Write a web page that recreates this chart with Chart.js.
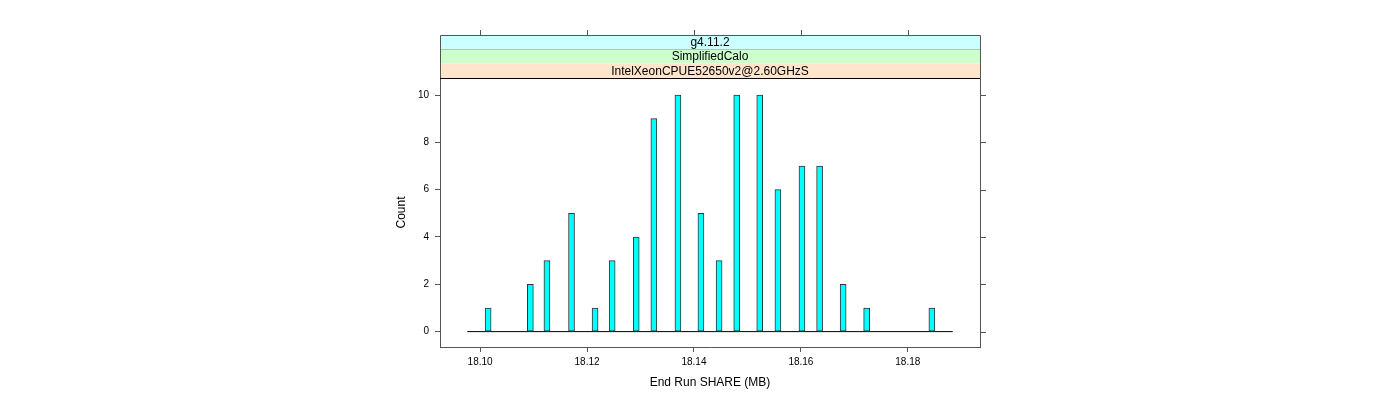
<!DOCTYPE html>
<html>
<head>
<meta charset="utf-8">
<title>End Run SHARE histogram</title>
<script src="https://cdn.jsdelivr.net/npm/chart.js@4.4.1/dist/chart.umd.min.js"></script>
<style>
  html, body { margin: 0; padding: 0; background: #fff; }
  canvas { display: block; }
</style>
</head>
<body>
<canvas id="histChart" width="1400" height="400"></canvas>
<script>
// --- data ---
const binCenters = [18.1015, 18.1094, 18.1125, 18.1171, 18.1215, 18.1247, 18.1292, 18.1325, 18.1370,
                    18.1413, 18.1447, 18.1480, 18.1523, 18.1557, 18.1602, 18.1635, 18.1679, 18.1723, 18.1845];
const counts = [1, 2, 3, 5, 1, 3, 4, 9, 10, 5, 3, 10, 10, 6, 7, 7, 2, 1, 1];
const baseRange = [18.0976, 18.1884];   // span of the empty bins (drawn as a flat line)
const xTicks = [18.10, 18.12, 18.14, 18.16, 18.18];
const yTicks = [0, 2, 4, 6, 8, 10];
const stripLabels = ['g4.11.2', 'SimplifiedCalo', 'IntelXeonCPUE52650v2@2.60GHzS'];
const stripColors = ['#ccffff', '#ccffcc', '#ffe5cc'];

const FONT = '"Liberation Sans", Arial, sans-serif';
const FRAME = '#555555';

// --- strips, top/right ticks, frame and axis titles ---
const latticePlugin = {
  id: 'lattice',
  afterDraw(chart) {
    const { ctx, chartArea: a, scales } = chart;
    const stripH = 14.4;
    const stripTop = a.top - stripH * stripLabels.length;
    ctx.save();

    // strips (innermost at the bottom)
    stripLabels.forEach((label, i) => {
      const y0 = stripTop + i * stripH;
      ctx.fillStyle = stripColors[i];
      ctx.fillRect(a.left, y0, a.right - a.left, stripH);
      ctx.strokeStyle = '#000';
      ctx.lineWidth = 1;
      ctx.beginPath();
      ctx.moveTo(a.left, Math.round(y0 + stripH) + 0.5);
      ctx.lineTo(a.right, Math.round(y0 + stripH) + 0.5);
      ctx.stroke();
      ctx.fillStyle = '#000';
      ctx.font = '12px ' + FONT;
      ctx.textAlign = 'center';
      ctx.textBaseline = 'middle';
      ctx.fillText(label, (a.left + a.right) / 2, y0 + stripH / 2 + 0.5);
    });

    // outer frame: top, right and the strip sides
    ctx.strokeStyle = FRAME;
    ctx.lineWidth = 1;
    ctx.beginPath();
    ctx.moveTo(Math.round(a.left) + 0.5, Math.round(stripTop) + 0.5);
    ctx.lineTo(Math.round(a.right) + 0.5, Math.round(stripTop) + 0.5);
    ctx.lineTo(Math.round(a.right) + 0.5, Math.round(a.bottom) + 0.5);
    ctx.moveTo(Math.round(a.left) + 0.5, Math.round(stripTop) + 0.5);
    ctx.lineTo(Math.round(a.left) + 0.5, a.top);
    ctx.stroke();

    // top ticks above the strips
    ctx.beginPath();
    xTicks.forEach(v => {
      const px = Math.round(scales.x.getPixelForValue(v)) + 0.5;
      ctx.moveTo(px, Math.round(stripTop));
      ctx.lineTo(px, Math.round(stripTop) - 5);
    });
    // right ticks
    yTicks.forEach(v => {
      const py = Math.round(scales.y.getPixelForValue(v)) + 0.5;
      ctx.moveTo(Math.round(a.right) + 1, py);
      ctx.lineTo(Math.round(a.right) + 6, py);
    });
    ctx.stroke();

    // axis titles
    ctx.fillStyle = '#000';
    ctx.font = '12px ' + FONT;
    ctx.textAlign = 'center';
    ctx.textBaseline = 'middle';
    ctx.fillText('End Run SHARE (MB)', (a.left + a.right) / 2, 383);
    ctx.translate(402, (a.top + a.bottom) / 2);
    ctx.rotate(-Math.PI / 2);
    ctx.fillText('Count', 0, 0);
    ctx.restore();
  }
};

const histCanvas = document.getElementById('histChart');
new Chart(histCanvas, {
  type: 'bar',
  data: {
    datasets: [{
      type: 'line',
      data: baseRange.map(x => ({ x: x, y: 0 })),
      borderColor: '#000',
      borderWidth: 1,
      pointRadius: 0,
      order: 2
    }, {
      type: 'bar',
      data: binCenters.map((x, i) => ({ x: x, y: counts[i] })),
      backgroundColor: '#00ffff',
      borderColor: '#333333',
      borderWidth: 1,
      borderSkipped: false,
      barThickness: 6,
      order: 1
    }]
  },
  options: {
    responsive: false,
    animation: false,
    layout: { padding: { left: 0, right: 420, top: 78, bottom: 0 } },
    plugins: { legend: { display: false }, tooltip: { enabled: false } },
    scales: {
      x: {
        type: 'linear',
        min: 18.0925,
        max: 18.1935,
        offset: false,
        afterFit: s => { s.height = 53; },
        afterBuildTicks: s => { s.ticks = xTicks.map(v => ({ value: v })); },
        grid: { offset: false, drawOnChartArea: false, drawTicks: true, tickLength: 5, color: FRAME },
        border: { display: true, color: FRAME },
        ticks: {
          padding: 4,
          color: '#000',
          font: { family: FONT, size: 10 },
          maxRotation: 0,
          callback: v => v.toFixed(2)
        }
      },
      y: {
        min: -0.65,
        max: 10.72,
        afterFit: s => { s.width = 440; },
        afterBuildTicks: s => { s.ticks = yTicks.map(v => ({ value: v })); },
        grid: { drawOnChartArea: false, drawTicks: true, tickLength: 5, color: FRAME },
        border: { display: true, color: FRAME },
        ticks: {
          padding: 6,
          color: '#000',
          font: { family: FONT, size: 10 },
          callback: v => String(v)
        }
      }
    }
  },
  plugins: [latticePlugin]
});
</script>
</body>
</html>
